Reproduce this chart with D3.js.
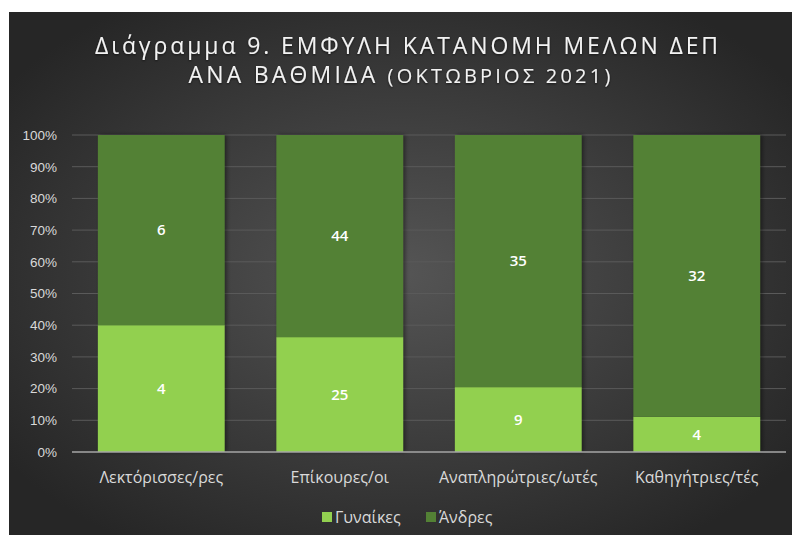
<!DOCTYPE html>
<html>
<head>
<meta charset="utf-8">
<script src="https://cdn.jsdelivr.net/npm/d3@7"></script>
<style>
  body { margin: 0; background: #fff; }
  svg { display: block; font-family: "Open Sans", "Noto Sans", sans-serif; }
</style>
</head>
<body>
<svg id="chart" width="792" height="535"></svg>
<script>
// data
const categories = ["Λεκτόρισσες/ρες", "Επίκουρες/οι", "Αναπληρώτριες/ωτές", "Καθηγήτριες/τές"];
const women = [4, 25, 9, 4];
const men = [6, 44, 35, 32];
const seriesNames = ["Γυναίκες", "Άνδρες"];
const seriesColors = ["#92d050", "#538135"];
const yTicks = [0, 0.1, 0.2, 0.3, 0.4, 0.5, 0.6, 0.7, 0.8, 0.9, 1];

const W = 792, H = 535;
const margin = {left: 72, right: 6, top: 135, bottom: 83};

const svg = d3.select("#chart");
const defs = svg.append("defs");

const grad = defs.append("radialGradient")
    .attr("id", "bg")
    .attr("cx", "50%").attr("cy", "50%").attr("r", "62%");
grad.append("stop").attr("offset", "0%").attr("stop-color", "#555555");
grad.append("stop").attr("offset", "100%").attr("stop-color", "#262626");

const shadow = defs.append("filter").attr("id", "shadow")
    .attr("x", "-10%").attr("y", "-5%").attr("width", "130%").attr("height", "110%");
shadow.append("feDropShadow")
    .attr("dx", 2).attr("dy", 0).attr("stdDeviation", 2)
    .attr("flood-color", "#000").attr("flood-opacity", 0.45);

const titleGlow = defs.append("filter").attr("id", "glow");
titleGlow.append("feDropShadow")
    .attr("dx", 0).attr("dy", 1).attr("stdDeviation", 1.2)
    .attr("flood-color", "#000").attr("flood-opacity", 0.6);

// background
svg.append("rect")
    .attr("x", 9).attr("y", 12)
    .attr("width", W - 9).attr("height", H - 12)
    .attr("fill", "url(#bg)");

const x = d3.scaleBand()
    .domain(categories)
    .range([margin.left, W - margin.right])
    .paddingInner(0.29)
    .paddingOuter(0.145);

const y = d3.scaleLinear()
    .domain([0, 1])
    .range([H - margin.bottom, margin.top]);

// gridlines
svg.append("g")
    .selectAll("line")
    .data(yTicks.slice(1))
    .join("line")
    .attr("x1", margin.left).attr("x2", W - margin.right)
    .attr("y1", d => y(d)).attr("y2", d => y(d))
    .attr("stroke", "#5a5a5a")
    .attr("stroke-width", 1);

// y axis labels
const yAxis = svg.append("g")
    .attr("transform", `translate(${margin.left},0)`)
    .call(d3.axisLeft(y).tickValues(yTicks).tickFormat(d3.format(".0%")).tickSize(0).tickPadding(15));
yAxis.select(".domain").remove();
yAxis.selectAll("text")
    .attr("fill", "#d9d9d9")
    .style("font-size", "13.5px");

// stacked data
const rows = categories.map((c, i) => ({cat: c, w: women[i], m: men[i], total: women[i] + men[i]}));
const segs = [];
rows.forEach(r => {
    segs.push({cat: r.cat, s: 0, y0: 0, y1: r.w / r.total, v: r.w});
    segs.push({cat: r.cat, s: 1, y0: r.w / r.total, y1: 1, v: r.m});
});

svg.append("g")
    .attr("filter", "url(#shadow)")
    .selectAll("rect")
    .data(segs)
    .join("rect")
    .attr("x", d => x(d.cat))
    .attr("width", x.bandwidth())
    .attr("y", d => y(d.y1))
    .attr("height", d => y(d.y0) - y(d.y1))
    .attr("fill", d => seriesColors[d.s]);

// data labels
svg.append("g")
    .selectAll("text")
    .data(segs)
    .join("text")
    .attr("x", d => x(d.cat) + x.bandwidth() / 2)
    .attr("y", d => y((d.y0 + d.y1) / 2))
    .attr("dy", "0.35em")
    .attr("text-anchor", "middle")
    .attr("fill", "#ffffff")
    .style("font-size", "15px")
    .style("font-weight", "600")
    .text(d => d.v);

// x axis line
svg.append("line")
    .attr("x1", margin.left).attr("x2", W - margin.right)
    .attr("y1", y(0)).attr("y2", y(0))
    .attr("stroke", "#a6a6a6")
    .attr("stroke-width", 1.5);

// category labels
svg.append("g")
    .selectAll("text")
    .data(categories)
    .join("text")
    .attr("x", d => x(d) + x.bandwidth() / 2)
    .attr("y", y(0) + 31)
    .attr("text-anchor", "middle")
    .attr("fill", "#d9d9d9")
    .style("font-size", "16px")
    .text(d => d);

// title
const title = svg.append("g").attr("filter", "url(#glow)").attr("fill", "#f2f2f2");
const t1 = title.append("text")
    .attr("x", 408).attr("y", 54)
    .attr("text-anchor", "middle")
    .style("font-size", "23px")
    .text("Διάγραμμα 9. ΕΜΦΥΛΗ ΚΑΤΑΝΟΜΗ ΜΕΛΩΝ ΔΕΠ");
const t2 = title.append("text")
    .attr("x", 401).attr("y", 83)
    .attr("text-anchor", "middle")
    .style("font-size", "23px");
t2.append("tspan").text("ΑΝΑ ΒΑΘΜΙΔΑ ");
t2.append("tspan").style("font-size", "20px").text("(ΟΚΤΩΒΡΙΟΣ 2021)");

function fitSpacing(node, target) {
    const n = node.textContent.length;
    const w = node.getComputedTextLength();
    d3.select(node).style("letter-spacing", ((target - w) / n) + "px");
}
fitSpacing(t1.node(), 626);
fitSpacing(t2.node(), 425);

// legend
const legend = svg.append("g").attr("transform", "translate(322,512)");
const items = legend.selectAll("g")
    .data(seriesNames)
    .join("g")
    .attr("transform", (d, i) => `translate(${i * 104},0)`);
items.append("rect")
    .attr("width", 10).attr("height", 10)
    .attr("fill", (d, i) => seriesColors[i]);
items.append("text")
    .attr("x", 13).attr("y", 11)
    .attr("fill", "#d9d9d9")
    .style("font-size", "16px")
    .text(d => d);
</script>
</body>
</html>
